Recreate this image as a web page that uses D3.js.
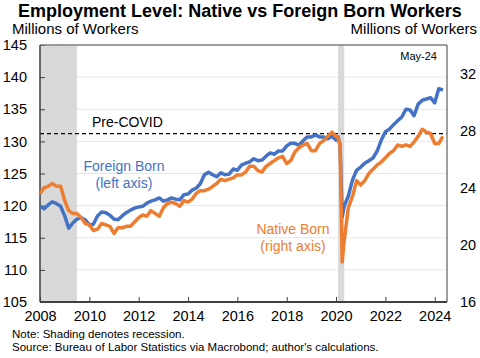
<!DOCTYPE html>
<html><head><meta charset="utf-8">
<script src="https://cdn.jsdelivr.net/npm/d3@7"></script>
<style>body{margin:0;background:#fff}svg{display:block}text{font-family:"Liberation Sans",Arial,sans-serif}</style>
</head><body><svg id="c" width="480" height="358"></svg>
<script>
// months since Jan 2008
const monthIdx=[0,2,4,6,8,10,12,14,16,18,20,22,24,26,28,30,32,34,36,38,40,42,44,46,48,50,52,54,56,58,60,62,64,66,68,70,72,74,76,78,80,82,84,86,88,90,92,94,96,98,100,102,104,106,108,110,112,114,116,118,120,122,124,126,128,130,132,134,136,138,140,142,144,145,146,147,148,150,152,154,156,158,160,162,164,166,168,170,172,174,176,178,180,182,184,186,188,190,192,194,196];
// Foreign Born (left axis)
const foreignBorn=[119.9,119.5,120.1,120.6,120.3,119.9,118.4,116.5,117.3,117.9,118.1,117.8,117.0,117.1,118.4,119.0,118.9,118.5,117.9,117.8,118.4,118.9,119.3,119.6,119.8,119.9,120.4,120.7,120.9,121.2,120.7,120.9,121.2,121.0,120.9,121.7,121.8,122.4,122.7,123.4,124.8,125.2,124.8,124.5,125.1,124.8,124.9,125.7,125.5,126.3,126.6,126.8,127.3,127.0,127.1,127.7,128.2,128.0,128.5,128.5,129.3,129.7,129.7,129.4,130.1,130.7,130.7,131.0,130.7,130.7,130.4,130.8,130.2,130.7,129.4,118.2,119.9,121.5,124.0,125.5,126.0,126.6,127.0,127.4,128.5,130.2,131.5,131.9,132.6,133.2,133.8,135.0,134.9,134.0,135.8,136.4,136.6,136.8,136.0,138.2,138.0];
// Native Born (right axis)
const nativeBorn=[23.6,24.0,24.1,24.3,24.1,24.1,23.1,22.4,22.2,22.2,21.9,21.5,21.4,21.0,21.1,21.5,21.4,21.3,20.8,21.2,21.2,21.3,21.3,21.6,21.9,22.1,22.0,22.4,22.2,22.0,22.6,22.9,23.0,22.9,22.7,23.1,23.0,23.2,23.6,23.8,23.8,23.9,24.1,24.3,24.6,24.5,24.6,24.7,24.9,24.9,25.1,25.5,25.5,25.2,25.1,25.5,25.7,25.9,26.1,26.2,25.7,25.9,26.5,26.8,27.0,27.1,26.6,26.6,27.1,27.3,27.6,27.9,27.6,27.5,27.0,18.8,20.3,22.6,23.4,24.5,24.2,24.5,25.0,25.3,25.6,25.8,26.1,26.4,26.6,27.0,26.9,27.0,26.9,27.2,27.6,28.1,27.9,27.8,27.1,27.1,27.6];
const xTickYears=[2008,2010,2012,2014,2016,2018,2020,2022,2024];
const leftTicks=[105,110,115,120,125,130,135,140,145];
const rightTicks=[16,20,24,28,32];
const recessions=[["2008-01-01","2009-07-01"],["2020-02-01","2020-05-01"]];
const preCovid=131.2;

const svg=d3.select("#c");
const L=40,R=447,T=45,B=302;
const x=d3.scaleTime().domain([new Date(2008,0,1),new Date(2024,6,1)]).range([L,R]);
const yL=d3.scaleLinear().domain([105,145]).range([B,T]);
const yR=d3.scaleLinear().domain([16,34]).range([B,T]);
const dates=monthIdx.map(m=>new Date(2008,m,1));

// gridlines
svg.append("g").selectAll("line").data(leftTicks.slice(1,-1)).join("line")
 .attr("x1",L).attr("x2",R).attr("y1",d=>yL(d)).attr("y2",d=>yL(d))
 .attr("stroke","#e6e6e6").attr("stroke-width",1);
// recessions
svg.append("g").selectAll("rect").data(recessions).join("rect")
 .attr("x",d=>x(new Date(d[0]+"T00:00"))).attr("width",d=>x(new Date(d[1]+"T00:00"))-x(new Date(d[0]+"T00:00")))
 .attr("y",T).attr("height",B-T).attr("fill","#d9d9d9");
// pre-covid
svg.append("line").attr("x1",L).attr("x2",R).attr("y1",yL(preCovid)).attr("y2",yL(preCovid))
 .attr("stroke","#000").attr("stroke-width",1.3).attr("stroke-dasharray","4,3");
svg.append("text").attr("x",92).attr("y",yL(preCovid)-7).attr("font-size",14).text("Pre-COVID");

// axes
const ax=svg.append("g").attr("transform",`translate(${L},0)`)
 .call(d3.axisLeft(yL).tickValues(leftTicks).tickSize(-5).tickPadding(13).tickFormat(d3.format("d")));
const axR=svg.append("g").attr("transform",`translate(${R},0)`)
 .call(d3.axisRight(yR).tickValues(rightTicks).tickSize(0).tickPadding(13).tickFormat(d3.format("d")));
const axB=svg.append("g").attr("transform",`translate(0,${B})`)
 .call(d3.axisBottom(x).tickValues(xTickYears.map(y=>new Date(y,0,1))).tickSize(-5).tickPadding(9).tickFormat(d3.timeFormat("%Y")));
[ax,axR,axB].forEach(g=>{g.select(".domain").remove();g.selectAll("text").attr("font-size",14.5).attr("fill","#000").attr("font-family",'"Liberation Sans",Arial,sans-serif');g.selectAll(".tick line").attr("stroke","#404040");});

// frame
svg.append("line").attr("x1",L).attr("x2",R).attr("y1",T).attr("y2",T).attr("stroke","#7f7f7f").attr("stroke-width",1.5);
svg.append("line").attr("x1",R).attr("x2",R).attr("y1",T).attr("y2",B).attr("stroke","#7f7f7f").attr("stroke-width",1.5);
svg.append("line").attr("x1",L).attr("x2",L).attr("y1",T).attr("y2",B).attr("stroke","#404040").attr("stroke-width",1.5);
svg.append("line").attr("x1",L).attr("x2",R).attr("y1",B).attr("y2",B).attr("stroke","#404040").attr("stroke-width",2);

// series
const lineL=d3.line().x((d,i)=>x(dates[i])).y(d=>yL(d));
const lineR=d3.line().x((d,i)=>x(dates[i])).y(d=>yR(d));
svg.append("path").datum(foreignBorn).attr("d",lineL).attr("fill","none").attr("stroke","#4472C4").attr("stroke-width",3.5).attr("stroke-linejoin","round");
svg.append("path").datum(nativeBorn).attr("d",lineR).attr("fill","none").attr("stroke","#ED7D31").attr("stroke-width",3.5).attr("stroke-linejoin","round");

// labels
svg.append("text").attr("x",240).attr("y",17).attr("text-anchor","middle").attr("font-size",18).attr("font-weight","bold").text("Employment Level: Native vs Foreign Born Workers");
svg.append("text").attr("x",12).attr("y",34).attr("font-size",15).text("Millions of Workers");
svg.append("text").attr("x",477).attr("y",34).attr("text-anchor","end").attr("font-size",15).text("Millions of Workers");
svg.append("text").attr("x",437).attr("y",60).attr("text-anchor","end").attr("font-size",11).text("May-24");
const fb=svg.append("text").attr("text-anchor","middle").attr("font-size",14).attr("fill","#4472C4");
fb.append("tspan").attr("x",124).attr("y",171).text("Foreign Born");
fb.append("tspan").attr("x",124).attr("y",188).text("(left axis)");
const nb=svg.append("text").attr("text-anchor","middle").attr("font-size",14).attr("fill","#ED7D31");
nb.append("tspan").attr("x",293).attr("y",234).text("Native Born");
nb.append("tspan").attr("x",293).attr("y",251).text("(right axis)");
svg.append("text").attr("x",12).attr("y",338).attr("font-size",11.5).text("Note: Shading denotes recession.");
svg.append("text").attr("x",12).attr("y",351).attr("font-size",11.5).text("Source: Bureau of Labor Statistics via Macrobond; author's calculations.");
</script></body></html>
